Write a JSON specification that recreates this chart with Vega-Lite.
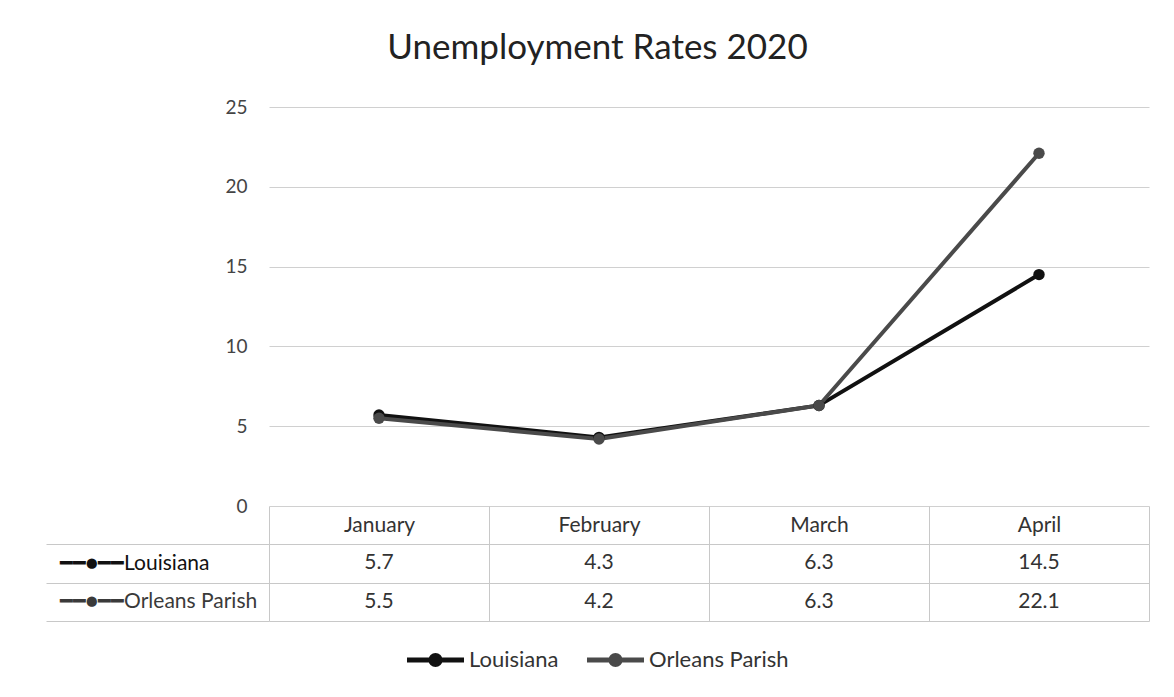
{
  "$schema": "https://vega.github.io/schema/vega-lite/v6.json",
  "padding": {"left": 45, "right": 26, "top": 31, "bottom": 22},
  "autosize": {"type": "pad"},
  "background": "white",
  "bounds": "flush",
  "spacing": 38,
  "title": {"text": "Unemployment Rates 2020", "font": "Lato", "fontSize": 35, "fontWeight": "normal", "color": "#222222", "anchor": "middle", "offset": 32},
  "datasets": {
    "rates": [
      {"month": "January", "series": "Louisiana", "rate": 5.7},
      {"month": "February", "series": "Louisiana", "rate": 4.3},
      {"month": "March", "series": "Louisiana", "rate": 6.3},
      {"month": "April", "series": "Louisiana", "rate": 14.5},
      {"month": "January", "series": "Orleans Parish", "rate": 5.5},
      {"month": "February", "series": "Orleans Parish", "rate": 4.2},
      {"month": "March", "series": "Orleans Parish", "rate": 6.3},
      {"month": "April", "series": "Orleans Parish", "rate": 22.1}
    ]
  },
  "config": {
    "view": {"stroke": null},
    "font": "Lato"
  },
  "vconcat": [
    {
      "width": 880,
      "height": 399,
      "data": {"name": "rates"},
      "mark": {"type": "line", "strokeWidth": 4, "point": {"filled": true, "size": 130}},
      "encoding": {
        "x": {"field": "month", "type": "ordinal", "sort": ["January", "February", "March", "April"], "scale": {"type": "point", "padding": 0.5}, "axis": null},
        "y": {"field": "rate", "type": "quantitative", "scale": {"domain": [0, 25]},
          "axis": {"values": [0, 5, 10, 15, 20, 25], "title": null, "domain": false, "ticks": false, "labelPadding": 22, "labelFont": "Lato", "labelFontSize": 19, "labelColor": "#444444", "gridColor": "#d0d0d0", "gridWidth": 1}},
        "color": {"field": "series", "type": "nominal",
          "scale": {"domain": ["Louisiana", "Orleans Parish"], "range": ["#111111", "#4a4a4a"]},
          "legend": {"orient": "none", "legendX": 135, "legendY": 521, "direction": "horizontal", "title": null, "labelFont": "Lato", "labelFontSize": 22, "labelColor": "#333333", "labelOffset": 2, "columnPadding": 17,
            "symbolType": "M-1,0L1,0M-0.16,0A0.16,0.16,0,1,1,0.16,0A0.16,0.16,0,1,1,-0.16,0Z", "symbolSize": 3250, "symbolStrokeWidth": 5,
            "encode": {"symbols": {"update": {"fill": {"scale": "color", "field": "value"}, "stroke": {"scale": "color", "field": "value"}}}}}}
      }
    },
    {
      "width": 880,
      "height": 77,
      "data": {"name": "rates"},
      "mark": {"type": "text", "font": "Lato", "fontSize": 21, "color": "#333333"},
      "encoding": {
        "x": {"field": "month", "type": "ordinal", "sort": ["January", "February", "March", "April"], "scale": {"type": "band", "paddingInner": 0, "paddingOuter": 0},
          "axis": {"orient": "top", "title": null, "tickBand": "extent", "tickSize": 38, "tickColor": "#c8c8c8", "domainColor": "#c8c8c8", "labelAngle": 0, "labelBaseline": "middle", "labelPadding": -19, "labelFont": "Lato", "labelFontSize": 21, "labelColor": "#333333", "grid": true, "gridColor": "#c8c8c8"}},
        "y": {"field": "series", "type": "nominal", "sort": ["Louisiana", "Orleans Parish"], "scale": {"type": "band", "paddingInner": 0, "paddingOuter": 0},
          "axis": {"title": null, "tickBand": "extent", "tickSize": 223, "tickColor": "#c8c8c8", "domain": false, "labelAlign": "left", "labelPadding": -13, "labelLimit": 260, "labelFont": "Lato", "labelFontSize": 21,
            "labelColor": {"condition": {"test": "datum.value == 'Orleans Parish'", "value": "#3a3a3a"}, "value": "#111111"},
            "labelExpr": "datum.label ? '━━●━━' + datum.label : ''", "grid": true, "gridColor": "#c8c8c8"}},
        "text": {"field": "rate", "type": "quantitative", "format": ".1f"}
      }
    }
  ]
}
